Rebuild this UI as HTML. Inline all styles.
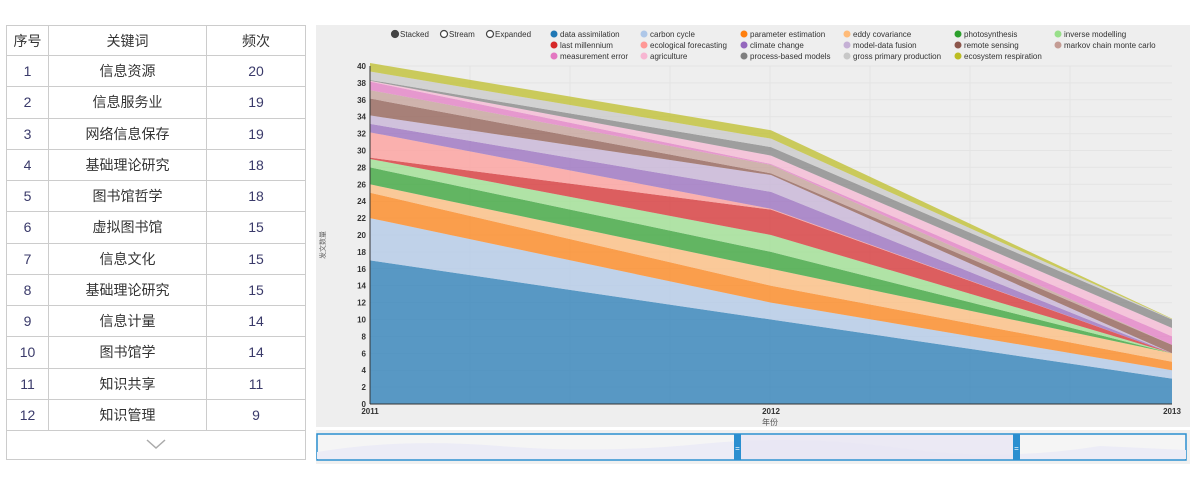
<!DOCTYPE html>
<html><head><meta charset="utf-8">
<style>
body{margin:0;width:1200px;height:482px;background:#fff;font-family:"Liberation Sans","Noto Sans CJK SC",sans-serif;position:relative;overflow:hidden}
table{position:absolute;left:6px;top:25px;border-collapse:collapse;width:300px}
td,th{border:1px solid #ccc;text-align:center;font-size:14px;font-weight:normal;color:#333;padding:0}
th{height:29px}
td{height:30.25px}
td.n{color:#3a3a6a}
#chev{position:absolute;left:6px;top:430px;width:298px;height:29px;border:1px solid #ccc;border-top:none}
</style></head><body>
<table>
<tr><th style="width:41px">序号</th><th style="width:157px">关键词</th><th>频次</th></tr>
<tr><td class="n">1</td><td>信息资源</td><td class="n">20</td></tr>
<tr><td class="n">2</td><td>信息服务业</td><td class="n">19</td></tr>
<tr><td class="n">3</td><td>网络信息保存</td><td class="n">19</td></tr>
<tr><td class="n">4</td><td>基础理论研究</td><td class="n">18</td></tr>
<tr><td class="n">5</td><td>图书馆哲学</td><td class="n">18</td></tr>
<tr><td class="n">6</td><td>虚拟图书馆</td><td class="n">15</td></tr>
<tr><td class="n">7</td><td>信息文化</td><td class="n">15</td></tr>
<tr><td class="n">8</td><td>基础理论研究</td><td class="n">15</td></tr>
<tr><td class="n">9</td><td>信息计量</td><td class="n">14</td></tr>
<tr><td class="n">10</td><td>图书馆学</td><td class="n">14</td></tr>
<tr><td class="n">11</td><td>知识共享</td><td class="n">11</td></tr>
<tr><td class="n">12</td><td>知识管理</td><td class="n">9</td></tr>
</table>
<div id="chev"><svg width="298" height="29"><polyline points="140,10 149,18 158,10" fill="none" stroke="#aaa" stroke-width="1.5"/></svg></div>
<svg id="chart" width="1200" height="482" style="position:absolute;left:0;top:0">
<rect x="316" y="25" width="874" height="402" fill="#eeeeee"/>
<rect x="316" y="430" width="874" height="34" fill="#f0f0f0"/>
<g id="grid"></g><g id="areas"></g><g id="axes"></g><g id="legend"></g>
<rect x="317" y="434" width="869" height="26" fill="#f5f5f5" stroke="#2b8fd0" stroke-width="1.5"/>
<path d="M317,452 Q400,438 500,446 T700,444 T900,448 T1100,446 L1186,450 L1186,459 L317,459Z" fill="#ececf6"/>
<rect x="739" y="435" width="277" height="24" fill="#e8e6f4" opacity="0.8"/>
<rect x="734" y="434" width="7" height="26" fill="#2b8fd0"/>
<rect x="1013" y="434" width="7" height="26" fill="#2b8fd0"/>
<text x="737.5" y="451" font-size="8" fill="#fff" text-anchor="middle">=</text>
<text x="1016.5" y="451" font-size="8" fill="#fff" text-anchor="middle">=</text>
</svg>
<script>
const years=[2011,2012,2013];
const names=["data assimilation","carbon cycle","parameter estimation","eddy covariance","photosynthesis","inverse modelling","last millennium","ecological forecasting","climate change","model-data fusion","remote sensing","markov chain monte carlo","measurement error","agriculture","process-based models","gross primary production","ecosystem respiration"];
const colors=["#1f77b4","#aec7e8","#ff7f0e","#ffbb78","#2ca02c","#98df8a","#d62728","#ff9896","#9467bd","#c5b0d5","#8c564b","#c49c94","#e377c2","#f7b6d2","#7f7f7f","#c7c7c7","#bcbd22"];
const s0=[17,10,3]; const s1=[5,2,1]; const s2=[3,2,1]; const s3=[1,2,1];
const s4=[2,2,0]; const s5=[1,2,0]; const s6=[0.15,3,0]; const s7=[3,0.1,0];
const s8=[1,2,0]; const s9=[1,2,0]; const s10=[2,0.2,1]; const s11=[1,1,0];
const s12=[1,0.1,1]; const s13=[0.1,1,1]; const s14=[0.1,1,1]; const s15=[1,1,0.05]; const s16=[1,1,0.05];
const series=[s0,s1,s2,s3,s4,s5,s6,s7,s8,s9,s10,s11,s12,s13,s14,s15,s16];
const yTicks=[0,2,4,6,8,10,12,14,16,18,20,22,24,26,28,30,32,34,36,38,40];
const NS="http://www.w3.org/2000/svg";
const X=y=>370+(y-2011)*401; const Y=v=>404-v*8.45;
function mk(t,a,p){const e=document.createElementNS(NS,t);for(const k in a)e.setAttribute(k,a[k]);p.appendChild(e);return e;}
const grid=document.getElementById('grid'),areas=document.getElementById('areas'),axes=document.getElementById('axes'),leg=document.getElementById('legend');
yTicks.forEach(t=>{mk('line',{x1:370,x2:1172,y1:Y(t),y2:Y(t),stroke:'#e4e4e4'},grid);
 const tx=mk('text',{x:366,y:Y(t)+3,'font-size':8,'font-weight':'bold','text-anchor':'end',fill:'#333'},axes);tx.textContent=t;
 
 });
for(let i=0;i<8;i++){mk('line',{x1:370+i*100,x2:370+i*100,y1:Y(40),y2:404,stroke:'#e4e4e4'},grid);}
let base=years.map(()=>0);
series.forEach((s,i)=>{const top=base.map((b,j)=>b+s[j]);
 let d='M'+years.map((y,j)=>X(y)+','+Y(top[j])).join('L')+'L'+years.slice().reverse().map((y,j)=>X(y)+','+Y(base[years.length-1-j])).join('L')+'Z';
 const p=mk('path',{d:d,fill:colors[i],'fill-opacity':0.72},areas);
 
 
 base=top;});
mk('line',{x1:370,x2:370,y1:Y(40),y2:404,stroke:'#333'},axes);
mk('line',{x1:370,x2:1172,y1:404,y2:404,stroke:'#333'},axes);
years.forEach((y,j)=>{const t=mk('text',{x:X(y),y:414,'font-size':8,'font-weight':'bold','text-anchor':'middle',fill:'#333'},axes);t.textContent=y;
 
 });
const xt=mk('text',{x:770,y:425,'font-size':8,'text-anchor':'middle',fill:'#555'},axes);xt.textContent='年份';


const yt=mk('text',{x:0,y:0,'font-size':7,'text-anchor':'middle',fill:'#666',transform:'translate(325,245) rotate(-90)'},axes);yt.textContent='发文数量';


[["Stacked",391,true],["Stream",440,false],["Expanded",486,false]].forEach(c=>{
 const g=mk('g',{},leg);
 
 
 mk('circle',{cx:c[1]+4,cy:34,r:3.5,fill:c[2]?'#444':'#fff',stroke:'#444','stroke-width':1.2},g);
 const t=mk('text',{x:c[1]+9,y:37,'font-size':8,fill:'#333'},g);t.textContent=c[0];});
const lx=[550,640,740,843,954,1054];
names.forEach((n,i)=>{const r=Math.floor(i/6),c=i%6;
 const g=mk('g',{},leg);
 
 
 mk('circle',{cx:lx[c]+4,cy:34+r*11,r:3.5,fill:colors[i]},g);
 const t=mk('text',{x:lx[c]+10,y:37+r*11,'font-size':8,fill:'#333'},g);t.textContent=n;});
</script>
</body></html>
